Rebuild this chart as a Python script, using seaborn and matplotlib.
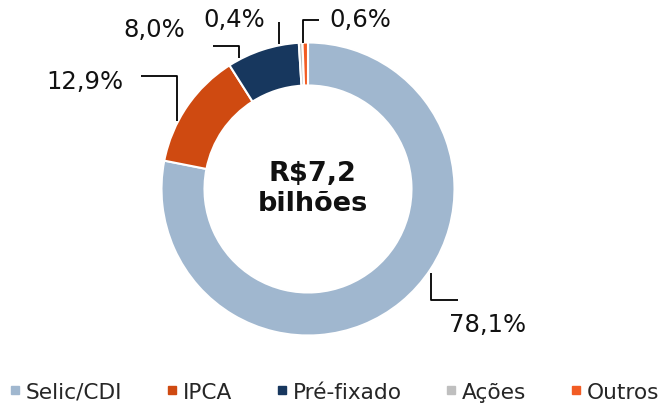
import matplotlib
matplotlib.use("Agg")
import matplotlib.pyplot as plt
from matplotlib.lines import Line2D
import seaborn as sns

# data
categories = ["Selic/CDI", "IPCA", "Pré-fixado", "Ações", "Outros"]
shares = [78.1, 12.9, 8.0, 0.4, 0.6]
value_labels = ["78,1%", "12,9%", "8,0%", "0,4%", "0,6%"]
center_label = ["R\\$7,2", "bilhões"]

colors = ["#A0B7CF", "#CF4A11", "#17375E", "#BFBFBF", "#F25C24"]

sns.set_theme(style="white")
plt.rcParams["font.family"] = ["DejaVu Sans"]

W, H = 659, 406
fig = plt.figure(figsize=(W / 100, H / 100), dpi=100)
ax = fig.add_axes([0, 0, 1, 1])


def py(y):
    """top-down pixel row -> axis y"""
    return H - y


cx, cy = 308, 190
radius = 146.5
ax.pie(shares, colors=colors, startangle=90, counterclock=False,
       center=(cx, py(cy)), radius=radius,
       wedgeprops=dict(width=43, edgecolor="white", linewidth=1.5))
ax.set_xlim(0, W)
ax.set_ylim(0, H)
ax.set_aspect("equal")
ax.axis("off")

# leader lines (elbows) and label baselines, in pixel layout
leaders = [
    [(431, 274), (431, 301), (458, 301)],
    [(177, 122), (177, 77), (141, 77)],
    [(239, 59), (239, 47), (213, 47)],
    [(279, 45), (279, 23)],
    [(303, 44), (303, 21), (319, 21)],
]
label_pos = [(488, 332), (85, 89), (154, 37), (234, 27), (360, 27)]

for path, (tx, ty), txt in zip(leaders, label_pos, value_labels):
    xs = [p[0] for p in path]
    ys = [py(p[1]) for p in path]
    ax.plot(xs, ys, color="black", lw=1.3, solid_capstyle="butt")
    ax.text(tx, py(ty), txt, ha="center", va="baseline", fontsize=17.5,
            color="#111111")

ax.text(312.5, py(181), center_label[0], ha="center", va="baseline",
        fontsize=19.5, fontweight="bold", color="#111111")
ax.text(312.5, py(211), center_label[1], ha="center", va="baseline",
        fontsize=19.5, fontweight="bold", color="#111111")

handles = [Line2D([], [], marker="s", linestyle="none", markersize=6,
                  markerfacecolor=c, markeredgecolor=c) for c in colors]
fig.legend(handles, categories, loc="center", bbox_to_anchor=(335 / W, 1 - 393 / H),
           ncol=5, frameon=False, fontsize=15.6, handlelength=0.4,
           handletextpad=0.3, columnspacing=2.1, borderaxespad=0)

fig.savefig("out.png", dpi=100)
